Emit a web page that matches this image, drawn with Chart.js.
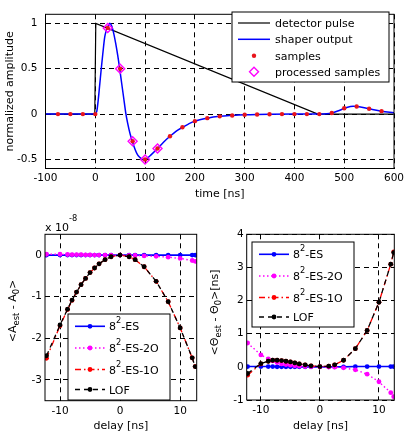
<!DOCTYPE html>
<html>
<head>
<meta charset="utf-8">
<script src="https://cdn.jsdelivr.net/npm/chart.js@4.4.0/dist/chart.umd.min.js"></script>
<style>
  body { margin: 0; background: #fff; }
  #wrap { position: relative; width: 408px; height: 432px; overflow: hidden; background: #fff; }
  canvas { position: absolute; }
</style>
</head>
<body>
<div id="wrap">
  <canvas id="pulseChart" width="408" height="200" style="left:0;top:0"></canvas>
  <canvas id="ampChart" width="204" height="232" style="left:0;top:200px"></canvas>
  <canvas id="timeChart" width="204" height="232" style="left:204px;top:200px"></canvas>
</div>
<script>
// ---- top panel: detector pulse, shaper output and its samples (time in ns) ----
const pulseTime = [-100, -1, 1, 447, 600];
const pulseAmp = [0, 0, 1, 0, 0];

const shaperTime = [-100, 0, 3, 6, 9, 12, 15, 19, 22, 25, 29, 33, 37, 41, 45, 49, 53, 57, 61, 65,
  70, 75, 80, 85, 90, 95, 100, 106, 112, 125, 137, 150, 162, 175, 187, 200, 225, 250, 275, 300,
  325, 350, 400, 450, 465, 475, 490, 505, 518, 530, 550, 575, 600];
const shaperAmp = [0, 0, 0.03, 0.16, 0.33, 0.5, 0.66, 0.85, 0.92, 0.96, 1.0, 0.97, 0.89, 0.78, 0.65, 0.5, 0.34, 0.18, 0.02, -0.1,
  -0.22, -0.31, -0.39, -0.45, -0.48, -0.5, -0.5, -0.48, -0.45, -0.38, -0.31, -0.245, -0.19, -0.146, -0.11, -0.078, -0.045, -0.025, -0.015, -0.008,
  -0.004, -0.002, 0, 0, 0.003, 0.012, 0.04, 0.072, 0.085, 0.08, 0.058, 0.032, 0.015];

const sampleTime = [-75, -50, -25, 0, 25, 50, 75, 100, 125, 150, 175, 200, 225, 250, 275, 300,
  325, 350, 375, 400, 425, 450, 475, 500, 525, 550, 575];
const sampleAmp = [0, 0, 0, 0, 0.95, 0.5, -0.3, -0.5, -0.38, -0.245, -0.146, -0.078, -0.045, -0.025, -0.015, -0.008,
  -0.004, -0.002, 0, 0, 0, 0, 0.012, 0.065, 0.083, 0.058, 0.032];

const processedTime = [25, 50, 75, 100, 125];
const processedAmp = [0.95, 0.5, -0.3, -0.5, -0.38];

const pulseLabels = ["detector pulse", "shaper output", "samples", "processed samples"];
const timeTicks = [-100, 0, 100, 200, 300, 400, 500, 600];
const normTicks = [-0.5, 0, 0.5, 1];

// ---- bottom panels: estimator bias vs. delay (ns) ----
const methodLabels = ["8^2-ES", "8^2-ES-2O", "8^2-ES-1O", "LOF"];
const delays = [-12.25, -10, -8.75, -8, -7.25, -6.5, -5.75, -5, -4.25, -3.5, -2.5, -1.5, 0, 1.5, 2.5, 4, 6, 8, 10, 12, 12.5];

// amplitude bias, units of 1e-8
const ampES = [0, 0, 0, 0, 0, 0, 0, 0, 0, 0, 0, 0, 0, 0, 0, 0, 0, 0, 0, 0, 0];
const ampES2O = [0.02, 0.02, 0.015, 0.01, 0.01, 0.01, 0.005, 0.005, 0, 0, 0, 0, 0, -0.005, -0.01, -0.02, -0.03, -0.05, -0.08, -0.13, -0.15];
const ampES1O = [-2.48, -1.7, -1.31, -1.09, -0.89, -0.71, -0.56, -0.42, -0.31, -0.21, -0.11, -0.04, 0, -0.04, -0.11, -0.28, -0.63, -1.12, -1.75, -2.47, -2.68];
const ampLOF = [-2.42, -1.68, -1.3, -1.08, -0.89, -0.71, -0.56, -0.42, -0.31, -0.21, -0.11, -0.04, 0, -0.04, -0.11, -0.28, -0.63, -1.12, -1.75, -2.47, -2.68];

// timing bias, ns
const thetaES = [0.01, 0.01, 0.01, 0.01, 0, 0, 0, 0, 0, 0, 0, 0, 0, 0, 0, 0, 0.01, 0.01, 0.01, 0.01, 0.01];
const thetaES2O = [0.72, 0.36, 0.24, 0.18, 0.13, 0.09, 0.07, 0.05, 0.03, 0.02, 0.01, 0.005, 0, -0.005, -0.01, -0.03, -0.09, -0.22, -0.45, -0.78, -0.9];
const thetaES1O = [-0.25, 0.09, 0.17, 0.2, 0.2, 0.19, 0.17, 0.15, 0.12, 0.09, 0.06, 0.03, 0.01, 0.02, 0.06, 0.2, 0.55, 1.1, 1.95, 3.1, 3.47];
const thetaLOF = [-0.2, 0.1, 0.17, 0.2, 0.2, 0.19, 0.17, 0.15, 0.12, 0.09, 0.06, 0.03, 0.01, 0.02, 0.06, 0.2, 0.55, 1.1, 1.95, 3.1, 3.45];

const delayTicks = [-10, 0, 10];
const ampBiasTicks = [-3, -2, -1, 0];
const thetaBiasTicks = [-1, 0, 1, 2, 3, 4];

const FONT = '"DejaVu Sans", sans-serif';
const TICK_SIZE = 10.5;
const TEXT_SIZE = 11;

Chart.defaults.font.family = FONT;
Chart.defaults.color = "#000";

const xy = (xs, ys) => xs.map((x, i) => ({ x: x, y: ys[i] }));

// text with ^x / _{xyz} super- and subscripts
function parseRich(str) {
  const parts = [];
  let i = 0;
  while (i < str.length) {
    const c = str[i];
    if (c === "^" || c === "_") {
      let t;
      if (str[i + 1] === "{") {
        const end = str.indexOf("}", i);
        t = str.slice(i + 2, end);
        i = end + 1;
      } else {
        t = str[i + 1];
        i += 2;
      }
      parts.push({ t: t, shift: c === "^" ? -1 : 1 });
    } else {
      let j = i;
      while (j < str.length && str[j] !== "^" && str[j] !== "_") j++;
      parts.push({ t: str.slice(i, j), shift: 0 });
      i = j;
    }
  }
  return parts;
}

function drawRich(ctx, str, x, y, size, align, raise) {
  const parts = parseRich(str);
  const small = size * 0.75;
  const widths = parts.map((p) => {
    ctx.font = (p.shift ? small : size) + "px " + FONT;
    return ctx.measureText(p.t).width;
  });
  const total = widths.reduce((a, b) => a + b, 0);
  let cx = align === "center" ? x - total / 2 : x;
  ctx.textAlign = "left";
  ctx.textBaseline = "alphabetic";
  parts.forEach((p, k) => {
    ctx.font = (p.shift ? small : size) + "px " + FONT;
    let dy = 0;
    if (p.shift < 0) dy = -raise;
    if (p.shift > 0) dy = size * 0.3;
    ctx.fillText(p.t, cx, y + dy);
    cx += widths[k];
  });
}

function drawMarker(ctx, style, r, x, y) {
  ctx.beginPath();
  if (style === "rectRot") {
    ctx.moveTo(x, y - r);
    ctx.lineTo(x + r, y);
    ctx.lineTo(x, y + r);
    ctx.lineTo(x - r, y);
    ctx.closePath();
    ctx.stroke();
  } else {
    ctx.arc(x, y, r, 0, Math.PI * 2);
    ctx.fill();
  }
}

// box around the axes, boxed legend inside the axes, rotated y title, exponent note
function makeDecor(cfg) {
  return {
    id: "decor",
    afterDraw(chart) {
      const ctx = chart.ctx;
      const a = chart.chartArea;
      ctx.save();
      ctx.strokeStyle = "#000";
      ctx.lineWidth = 1;
      ctx.setLineDash([]);
      ctx.strokeRect(a.left, a.top, a.right - a.left, a.bottom - a.top);

      const lg = cfg.legend;
      ctx.fillStyle = "#fff";
      ctx.fillRect(lg.x, lg.y, lg.w, lg.h);
      ctx.strokeRect(lg.x, lg.y, lg.w, lg.h);
      chart.data.datasets.forEach((ds, i) => {
        const y = lg.y + lg.rows[i];
        if (ds.showLine !== false) {
          ctx.strokeStyle = ds.borderColor;
          ctx.lineWidth = ds.borderWidth;
          ctx.setLineDash(ds.borderDash || []);
          ctx.beginPath();
          ctx.moveTo(lg.x + lg.line[0], y);
          ctx.lineTo(lg.x + lg.line[1], y);
          ctx.stroke();
          ctx.setLineDash([]);
        }
        if (ds.pointRadius > 0) {
          ctx.fillStyle = ds.pointBackgroundColor;
          ctx.strokeStyle = ds.pointBorderColor;
          ctx.lineWidth = ds.pointBorderWidth;
          drawMarker(ctx, ds.pointStyle, ds.pointRadius, lg.x + (lg.line[0] + lg.line[1]) / 2, y);
        }
        ctx.fillStyle = "#000";
        drawRich(ctx, ds.label, lg.x + lg.text, y + 4, TEXT_SIZE, "left", 7);
      });

      if (cfg.yTitle) {
        ctx.save();
        ctx.translate(cfg.yTitle.x, cfg.yTitle.y);
        ctx.rotate(-Math.PI / 2);
        ctx.fillStyle = "#000";
        drawRich(ctx, cfg.yTitle.text, 0, 4, TEXT_SIZE, "center", 7);
        ctx.restore();
      }
      if (cfg.note) {
        ctx.fillStyle = "#000";
        drawRich(ctx, cfg.note.text, cfg.note.x, cfg.note.y, TEXT_SIZE, "left", 10);
      }
      ctx.restore();
    },
  };
}

function axis(min, max, ticks, fit, tickPad, title) {
  return {
    type: "linear",
    min: min,
    max: max,
    afterBuildTicks: (s) => {
      s.ticks = ticks.map((v) => ({ value: v }));
    },
    afterFit: (s) => {
      if (s.isHorizontal()) s.height = fit;
      else s.width = fit;
    },
    grid: { color: "#000", lineWidth: 1, drawTicks: false },
    border: { display: false, dash: [5, 4] },
    ticks: {
      color: "#000",
      padding: tickPad,
      font: { size: TICK_SIZE },
      callback: (v) => String(v),
    },
    title: {
      display: !!title,
      text: title || "",
      color: "#000",
      font: { size: TEXT_SIZE },
      padding: { top: 4, bottom: -1 },
    },
  };
}

const baseOptions = {
  responsive: false,
  animation: false,
  devicePixelRatio: 1,
  plugins: { legend: { display: false }, tooltip: { enabled: false } },
  elements: { line: { tension: 0 } },
};

// top chart
new Chart(document.getElementById("pulseChart"), {
  type: "line",
  data: {
    datasets: [
      {
        label: pulseLabels[0],
        data: xy(pulseTime, pulseAmp),
        borderColor: "#000",
        borderWidth: 1.2,
        pointRadius: 0,
        order: 4,
      },
      {
        label: pulseLabels[1],
        data: xy(shaperTime, shaperAmp),
        borderColor: "#0000ff",
        borderWidth: 1.5,
        pointRadius: 0,
        cubicInterpolationMode: "monotone",
        order: 3,
      },
      {
        label: pulseLabels[2],
        data: xy(sampleTime, sampleAmp),
        showLine: false,
        pointStyle: "circle",
        pointRadius: 2.2,
        pointBackgroundColor: "#e8141c",
        pointBorderColor: "#e8141c",
        pointBorderWidth: 0,
        order: 2,
      },
      {
        label: pulseLabels[3],
        data: xy(processedTime, processedAmp),
        showLine: false,
        pointStyle: "rectRot",
        pointRadius: 4.5,
        pointBackgroundColor: "rgba(0,0,0,0)",
        pointBorderColor: "#ff00ff",
        pointBorderWidth: 1.4,
        order: 1,
      },
    ],
  },
  options: Object.assign({}, baseOptions, {
    layout: { padding: { left: 0, top: 6, right: 14, bottom: 0 } },
    scales: {
      x: axis(-100, 600, timeTicks, 31.5, 3, "time [ns]"),
      y: axis(-0.6, 1.1, normTicks, 45.5, 8, "normalized amplitude"),
    },
  }),
  plugins: [
    makeDecor({
      legend: { x: 232, y: 12, w: 157, h: 70, rows: [11, 27.3, 43.7, 59.7], line: [6, 38], text: 43 },
    }),
  ],
});

const methodStyles = [
  { color: "#0000ff", dash: [], width: 1.6 },
  { color: "#ff00ff", dash: [1.5, 2.5], width: 1.4 },
  { color: "#ff0000", dash: [6, 3, 1.5, 3], width: 1.3 },
  { color: "#000000", dash: [5, 4], width: 1.3 },
];

function methodSets(series) {
  return series.map((vals, i) => ({
    label: methodLabels[i],
    data: xy(delays, vals),
    borderColor: methodStyles[i].color,
    borderWidth: methodStyles[i].width,
    borderDash: methodStyles[i].dash,
    pointStyle: "circle",
    pointRadius: 2.4,
    pointBackgroundColor: methodStyles[i].color,
    pointBorderColor: methodStyles[i].color,
    pointBorderWidth: 0,
    order: 4 - i,
  }));
}

// bottom left: amplitude bias
new Chart(document.getElementById("ampChart"), {
  type: "line",
  data: { datasets: methodSets([ampES, ampES2O, ampES1O, ampLOF]) },
  options: Object.assign({}, baseOptions, {
    layout: { padding: { left: 0, top: 34.3, right: 7.3, bottom: 0 } },
    scales: {
      x: axis(-12.5, 12.75, delayTicks, 31.3, 4, "delay [ns]"),
      y: axis(-3.5, 0.5, ampBiasTicks, 45, 3, null),
    },
  }),
  plugins: [
    makeDecor({
      legend: { x: 68, y: 114, w: 102, h: 86, rows: [12.3, 34, 55.5, 75.5], line: [7, 37], text: 41 },
      yTitle: { text: "<A_{est} - A_0>", x: 12, y: 111 },
      note: { text: "x 10^{-8}", x: 45, y: 30.7 },
    }),
  ],
});

// bottom right: timing bias
new Chart(document.getElementById("timeChart"), {
  type: "line",
  data: { datasets: methodSets([thetaES, thetaES2O, thetaES1O, thetaLOF]) },
  options: Object.assign({}, baseOptions, {
    layout: { padding: { left: 0, top: 34.3, right: 13.7, bottom: 0 } },
    scales: {
      x: axis(-12.4, 12.6, delayTicks, 32, 4, "delay [ns]"),
      y: axis(-1, 4, thetaBiasTicks, 42.7, 3, null),
    },
  }),
  plugins: [
    makeDecor({
      legend: { x: 48, y: 42, w: 102, h: 85, rows: [12.3, 34, 55.5, 75], line: [7, 37], text: 41 },
      yTitle: { text: "<Θ_{est} - Θ_0>[ns]", x: 10, y: 112.5 },
    }),
  ],
});
</script>
</body>
</html>
